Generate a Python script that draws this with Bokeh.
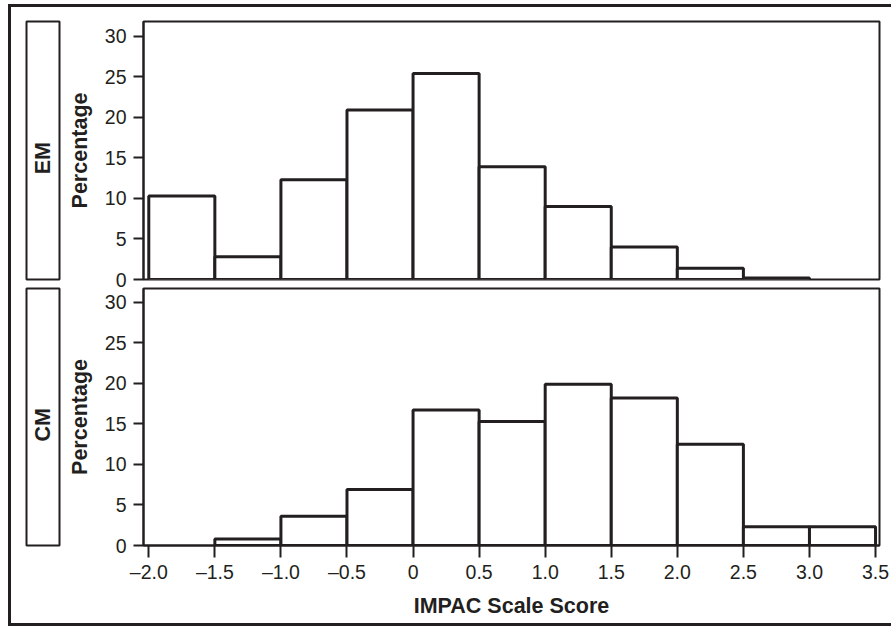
import math
from bokeh.plotting import figure
from bokeh.layouts import row, column
from bokeh.models import FixedTicker
from bokeh.core.properties import value
from bokeh.embed import file_html
from bokeh.resources import INLINE

# ---- data ----
bin_edges = [-2.0, -1.5, -1.0, -0.5, 0.0, 0.5, 1.0, 1.5, 2.0, 2.5, 3.0, 3.5]
em_pct = [10.3, 2.8, 12.3, 20.9, 25.4, 13.9, 9.0, 4.0, 1.4, 0.2, 0.0]
cm_pct = [0.0, 0.8, 3.6, 6.9, 16.7, 15.3, 19.9, 18.2, 12.5, 2.3, 2.3]
panel_labels = ["EM", "CM"]
x_ticks = [-2.0, -1.5, -1.0, -0.5, 0.0, 0.5, 1.0, 1.5, 2.0, 2.5, 3.0, 3.5]
x_tick_labels = ["\u20132.0", "\u20131.5", "\u20131.0", "\u20130.5", "0", "0.5",
                 "1.0", "1.5", "2.0", "2.5", "3.0", "3.5"]
y_ticks = [0, 5, 10, 15, 20, 25, 30]
x_label = "IMPAC Scale Score"
y_label = "Percentage"

INK = "#231f20"
FONT = "Liberation Sans"
BOLD_SIZE = "21.5px"
TICK_SIZE = "19.5px"

def main_panel(pcts, height, top_b, bot_b, y_max, show_x):
    p = figure(width=829, height=height, x_range=(-2.04, 3.53), y_range=(0, y_max),
               output_backend="svg", toolbar_location=None,
               min_border_left=81, min_border_right=12,
               min_border_top=top_b, min_border_bottom=bot_b)
    p.background_fill_color = "white"
    p.border_fill_color = "white"
    p.border_fill_alpha = 0.0
    p.grid.visible = False
    p.outline_line_color = INK
    p.outline_line_width = 2
    left = [bin_edges[i] for i in range(len(pcts)) if pcts[i] > 0]
    right = [bin_edges[i + 1] for i in range(len(pcts)) if pcts[i] > 0]
    top = [v for v in pcts if v > 0]
    p.quad(left=left, right=right, top=top, bottom=0, fill_color="white",
           line_color=INK, line_width=3)
    ya = p.yaxis[0]
    ya.ticker = FixedTicker(ticks=y_ticks)
    ya.axis_label = y_label
    ya.axis_label_text_font = FONT
    ya.axis_label_text_font_style = "bold"
    ya.axis_label_text_font_size = BOLD_SIZE
    ya.axis_label_text_color = INK
    ya.axis_label_standoff = 10
    ya.major_label_text_font = FONT
    ya.major_label_text_font_size = TICK_SIZE
    ya.major_label_text_color = INK
    ya.major_label_standoff = 7
    ya.major_tick_out = 10
    ya.major_tick_in = 0
    ya.minor_tick_out = 0
    ya.minor_tick_in = 0
    ya.major_tick_line_color = INK
    ya.major_tick_line_width = 2
    ya.axis_line_color = INK
    ya.axis_line_width = 2
    xa = p.xaxis[0]
    if show_x:
        xa.ticker = FixedTicker(ticks=x_ticks)
        xa.major_label_overrides = {t: s for t, s in zip(x_ticks, x_tick_labels)}
        xa.axis_label = x_label
        xa.axis_label_text_font = FONT
        xa.axis_label_text_font_style = "bold"
        xa.axis_label_text_font_size = BOLD_SIZE
        xa.axis_label_text_color = INK
        xa.axis_label_standoff = 8
        xa.major_label_text_font = FONT
        xa.major_label_text_font_size = TICK_SIZE
        xa.major_label_text_color = INK
        xa.major_label_standoff = 3
        xa.major_tick_out = 12
        xa.major_tick_in = 0
        xa.minor_tick_out = 0
        xa.minor_tick_in = 0
        xa.major_tick_line_color = INK
        xa.major_tick_line_width = 2
        xa.axis_line_color = INK
        xa.axis_line_width = 2
    else:
        xa.visible = False
    return p

def strip_panel(label, height, top_b, bot_b):
    s = figure(width=51, height=height, x_range=(0, 1), y_range=(0, 1),
               output_backend="svg", toolbar_location=None,
               x_axis_type=None, y_axis_type=None,
               min_border_left=15, min_border_right=3,
               min_border_top=top_b, min_border_bottom=bot_b)
    s.grid.visible = False
    s.background_fill_color = "white"
    s.border_fill_color = "white"
    s.border_fill_alpha = 0.0
    s.outline_line_color = INK
    s.outline_line_width = 2
    s.text(x=[0.5], y=[0.47], text=[label], angle=math.pi / 2,
           text_align="center", text_baseline="middle",
           text_font=value(FONT), text_font_style="bold",
           text_font_size=BOLD_SIZE, text_color=INK)
    return s

# top panel canvas 7..293 (frame 21..279), bottom canvas 287..623 (frame 288..545)
p1 = main_panel(em_pct, 286, 14, 14, 31.8, False)
p2 = main_panel(cm_pct, 336, 1, 78, 31.7, True)
s1 = strip_panel(panel_labels[0], 286, 14, 14)
s2 = strip_panel(panel_labels[1], 336, 1, 78)

row1 = row(s1, p1)
row2 = row(s2, p2, styles={"margin-top": "-6px"})

layout = column(row1, row2,
                styles={"border-top": "3px solid " + INK,
                        "border-left": "3px solid " + INK,
                        "border-bottom": "3px solid " + INK,
                        "margin-top": "4px",
                        "margin-left": "8px",
                        "background-color": "white"})

open("out.html", "w").write(file_html(layout, INLINE))
